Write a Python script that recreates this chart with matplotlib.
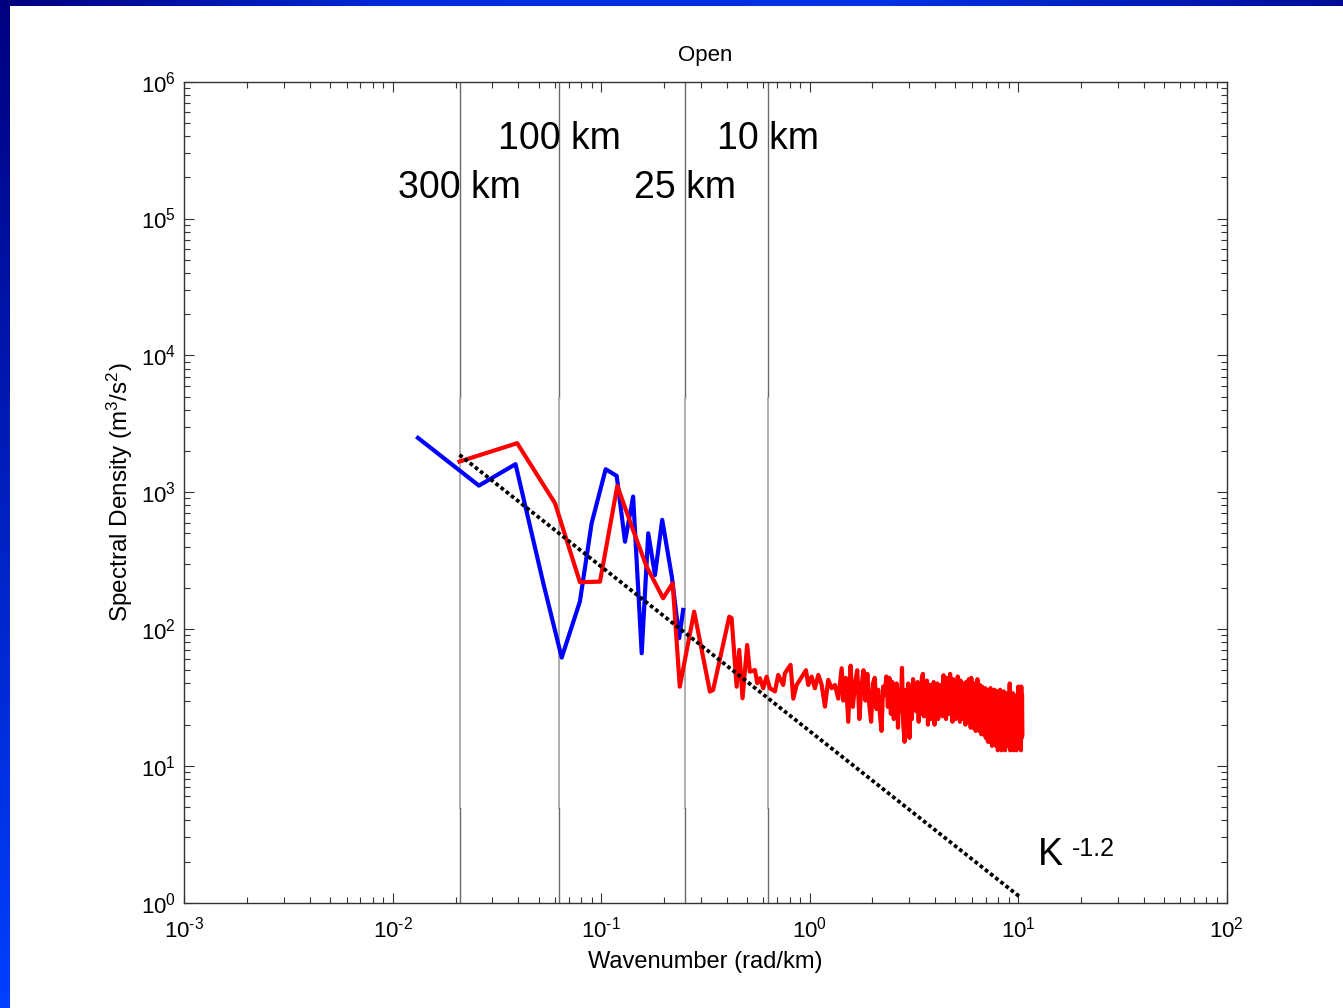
import numpy as np
import matplotlib
matplotlib.use("Agg")
import matplotlib.pyplot as plt
from matplotlib.colors import LinearSegmentedColormap
from matplotlib.ticker import LogLocator, FixedLocator, FixedFormatter, NullFormatter
import matplotlib.transforms as mtransforms

plt.rcParams['font.family'] = ['Liberation Sans', 'DejaVu Sans']
plt.rcParams['mathtext.fontset'] = 'custom'
plt.rcParams['mathtext.rm'] = 'Liberation Sans'
plt.rcParams['mathtext.it'] = 'Liberation Sans:italic'
plt.rcParams['mathtext.bf'] = 'Liberation Sans:bold'

# ---------------- data ----------------
blue_k = [0.0132, 0.0259, 0.0388, 0.0527, 0.0646, 0.079, 0.0899, 0.105, 0.1186,
          0.130, 0.1422, 0.1563, 0.168, 0.181, 0.196, 0.218, 0.2366, 0.247]
blue_s = [2495, 1117, 1603, 217, 61.8, 159, 593, 1473, 1315,
          435, 929, 66.5, 501, 248, 628, 242, 85.7, 138]

red_k = [0.0209, 0.0395, 0.060, 0.079, 0.0986, 0.1194, 0.142, 0.165, 0.198, 0.220,
         0.238, 0.279, 0.332, 0.344, 0.411, 0.422, 0.446, 0.459, 0.476, 0.501,
         0.516, 0.546, 0.560, 0.577, 0.598, 0.621, 0.644, 0.681, 0.706, 0.746,
         0.760, 0.809, 0.834, 0.865, 0.897, 0.959, 0.984, 1.021, 1.059, 1.099,
         1.141, 1.183, 1.227, 1.274, 1.321, 1.371, 1.423]
red_s = [1675, 2281, 831, 220, 222, 1112, 530, 286, 168, 216,
         37.9, 134, 34.9, 35.9, 123, 120, 37.9, 70.3, 31.2, 76.5,
         48.8, 50.2, 40.2, 43.7, 36.9, 44.9, 36.9, 35.0, 46.2, 39.0,
         47.5, 54.7, 31.0, 39.0, 42.5, 50.0, 39.0, 44.9, 36.9, 46.2,
         39.0, 27.1, 42.5, 36.9, 39.0, 31.0, 51.7]

# mid wavenumbers (1.45 .. 4.25 rad/km)
red_mid_s = [30, 44, 21, 54, 27, 40, 50, 22, 38, 50,
             30, 47, 28, 21, 40, 44, 26, 36, 24, 18,
             38, 33, 45, 27, 44, 24, 41, 22, 32, 40,
             19, 36, 25, 52, 20, 15, 36, 24, 40, 16,
             33, 22, 43, 26, 38, 25, 41, 21, 37, 24,
             44, 47, 23, 39, 27, 42, 20, 37, 39, 22,
             36, 24, 41, 20, 38, 23, 40, 22, 36, 26, 39]
red_mid_k = np.linspace(1.45, 4.25, len(red_mid_s))

# dense high-wavenumber tail (4.3 .. 10.47 rad/km)
red_tail_s = [38, 23, 46, 25, 41, 22, 44, 30, 39, 24,
              47, 26, 40, 21, 43, 28, 38, 22, 41, 25,
              45, 27, 39, 21, 42, 29, 37, 22, 40, 24,
              36, 20, 41, 28, 38, 21, 43, 26, 35, 19,
              44, 24, 37, 19, 40, 27, 36, 18, 39, 22,
              43, 21, 37, 18, 39, 26, 34, 17, 38, 22,
              36, 17, 33, 21, 37, 16, 35, 19, 35, 15,
              36, 18, 33, 15, 37, 20, 32, 14, 35, 16,
              34, 15, 36, 19, 31, 14, 35, 17, 33, 13,
              35, 16, 33, 14, 36, 18, 32, 13, 34, 15,
              33, 14, 35, 17, 31, 13, 34, 16, 32, 14,
              32, 16, 34, 14, 30, 18, 40, 13, 31, 15,
              33, 14, 31, 17, 34, 13, 30, 15, 32, 14,
              31, 15, 29, 13, 33, 16, 30, 14, 38, 15,
              33, 14, 31, 17, 36, 13, 38, 16, 33, 17]
red_tail_k = np.linspace(4.3, 10.47, len(red_tail_s))

fit_k = [0.0209, 10.2]
fit_s = [1875, 1.1]

scale_k = [2 * np.pi / 300, 2 * np.pi / 100, 2 * np.pi / 25, 2 * np.pi / 10]
scale_labels = ["300 km", "100 km", "25 km", "10 km"]
scale_label_s = [1.676e5, 3.83e5, 1.676e5, 3.83e5]

xticks = [1e-3, 1e-2, 1e-1, 1e0, 1e1, 1e2]
xticklabels = [r"$\mathregular{10^{\text{-}3}}$", r"$\mathregular{10^{\text{-}2}}$",
               r"$\mathregular{10^{\text{-}1}}$", r"$\mathregular{10^{0}}$",
               r"$\mathregular{10^{1}}$", r"$\mathregular{10^{2}}$"]
yticks = [1e0, 1e1, 1e2, 1e3, 1e4, 1e5, 1e6]
yticklabels = [r"$\mathregular{10^{%d}}$" % i for i in range(7)]

# ---------------- figure ----------------
W, H = 1343, 1008
fig = plt.figure(figsize=(W / 100, H / 100), dpi=100)
fig.patch.set_facecolor("white")

bg = fig.add_axes([0, 0, 1, 1], zorder=-10)
bg.set_xlim(0, W)
bg.set_ylim(H, 0)
bg.axis("off")
top_cmap = LinearSegmentedColormap.from_list(
    "top", [(0.0, (0.0, 0.0, 0.5)), (0.3, (0.0, 0.17, 0.86)), (0.65, (0.0, 0.2, 0.9)), (1.0, (0.0, 0.05, 0.6))])
left_cmap = LinearSegmentedColormap.from_list(
    "left", [(0.0, (0.0, 0.0, 0.5)), (1.0, (0.0, 0.25, 1.0))])
grad = np.linspace(0, 1, 256)
bg.imshow(grad[None, :], cmap=top_cmap, extent=(0, W, 6, 0), aspect="auto")
bg.imshow(grad[:, None], cmap=left_cmap, extent=(0, 10, H, 0), aspect="auto")

ax = fig.add_axes([184.3 / W, 1 - 902.7 / H, (1226.7 - 184.3) / W, (902.7 - 81.7) / H])
ax.set_xscale("log")
ax.set_yscale("log")
ax.set_xlim(1e-3, 1e2)
ax.set_ylim(1e0, 1e6)

# scale lines
trans = mtransforms.blended_transform_factory(ax.transData, ax.transAxes)
for k in scale_k:
    ax.plot([k, k], [0.6147, 1.0], color="#6a6a6a", lw=1.0, transform=trans, zorder=1)
    ax.plot([k, k], [0.1153, 0.6147], color="#a8a8a8", lw=1.3, transform=trans, zorder=1)
    ax.plot([k, k], [0.0, 0.1153], color="#6a6a6a", lw=1.0, transform=trans, zorder=1)

ax.plot(blue_k, blue_s, color="#0000ff", lw=3.0, zorder=3)
ax.plot(list(red_k) + list(red_mid_k) + list(red_tail_k),
        list(red_s) + list(red_mid_s) + list(red_tail_s),
        color="#ff0000", lw=3.0, zorder=4)
ax.plot(fit_k, fit_s, color="black", lw=2.7, linestyle=(0, (1, 0.75)),
        dash_capstyle="butt", zorder=5)

for k, lab, s in zip(scale_k, scale_labels, scale_label_s):
    ax.text(k, s, lab, fontsize=27, ha="center", va="center", zorder=6)

ax.text(0.819, 0.058, "K", fontsize=27, transform=ax.transAxes, ha="left", va="center")
ax.text(0.8516, 0.0655, "-1.2", fontsize=18, transform=ax.transAxes, ha="left", va="center")

# ticks
ax.xaxis.set_major_locator(FixedLocator(xticks))
ax.xaxis.set_major_formatter(FixedFormatter(xticklabels))
ax.yaxis.set_major_locator(FixedLocator(yticks))
ax.yaxis.set_major_formatter(FixedFormatter(yticklabels))
ax.xaxis.set_minor_locator(LogLocator(base=10, subs=np.arange(2, 10), numticks=20))
ax.yaxis.set_minor_locator(LogLocator(base=10, subs=np.arange(2, 10), numticks=20))
ax.xaxis.set_minor_formatter(NullFormatter())
ax.yaxis.set_minor_formatter(NullFormatter())
ax.tick_params(which="both", direction="in", top=True, right=True, color="#333333", width=0.8)
ax.tick_params(which="major", length=7, labelsize=16)
ax.tick_params(which="minor", length=4.3)
ax.tick_params(axis="x", which="major", pad=10)
ax.tick_params(axis="y", which="major", pad=6)
for sp in ax.spines.values():
    sp.set_color("#333333")
    sp.set_linewidth(1.0)

ax.set_title("Open", fontsize=16, pad=15)
ax.set_xlabel("Wavenumber (rad/km)", fontsize=17, labelpad=6)
ax.set_ylabel(r"Spectral Density (m$^3$/s$^2$)", fontsize=17.5, labelpad=4)

fig.savefig("out.png", dpi=100)
